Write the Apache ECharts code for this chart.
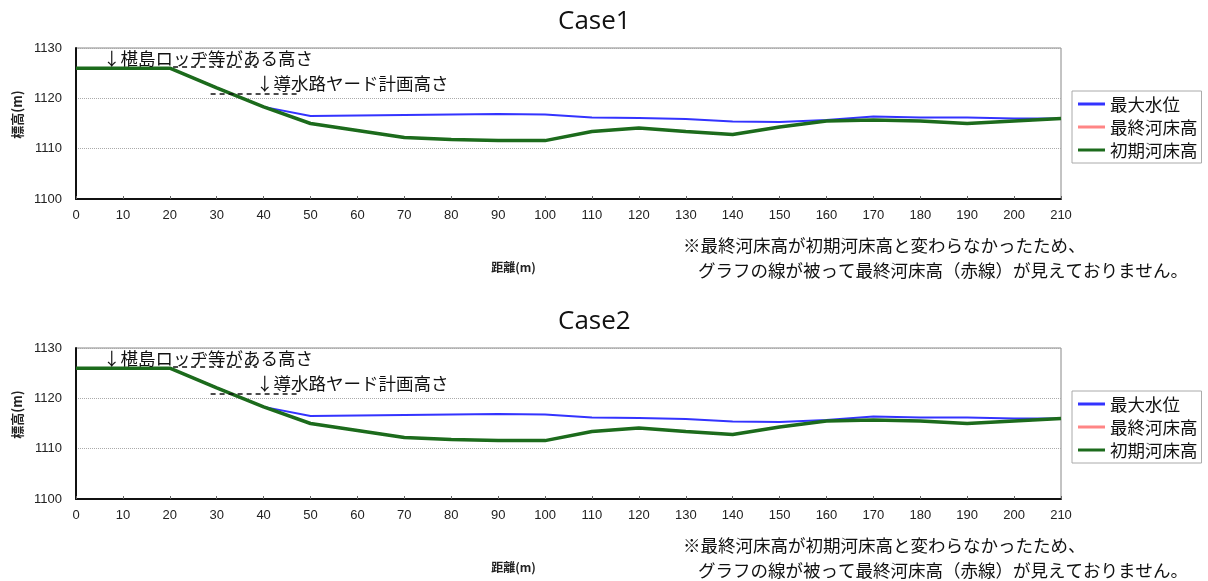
<!DOCTYPE html>
<html>
<head>
<meta charset="utf-8">
<script src="https://cdn.jsdelivr.net/npm/echarts@6/dist/echarts.min.js"></script>
<style>
  html, body { margin: 0; padding: 0; background: #fff; }
  #case1 { position: absolute; left: 0; top: 0; width: 1208px; height: 300px; }
  #case2 { position: absolute; left: 0; top: 300px; width: 1208px; height: 281px; }
</style>
</head>
<body>
<div id="case1"></div>
<div id="case2"></div>
<script>
// 距離 (m)
const distance = [0, 10, 20, 30, 40, 50, 60, 70, 80, 90, 100, 110, 120, 130, 140, 150, 160, 170, 180, 190, 200, 210];
// 最大水位
const waterMax = [1126, 1126, 1126, 1122.1, 1118.3, 1116.5, 1116.6, 1116.7, 1116.8, 1116.9, 1116.8, 1116.2, 1116.1, 1115.9, 1115.4, 1115.3, 1115.7, 1116.4, 1116.2, 1116.2, 1116.0, 1116.0];
// 最終河床高 (同じ値なので初期河床高の下に隠れる)
const bedFinal = [1126, 1126, 1126, 1122.1, 1118.3, 1115.0, 1113.6, 1112.2, 1111.8, 1111.6, 1111.6, 1113.4, 1114.1, 1113.4, 1112.8, 1114.3, 1115.5, 1115.7, 1115.5, 1115.0, 1115.5, 1116.0];
// 初期河床高
const bedInitial = [1126, 1126, 1126, 1122.1, 1118.3, 1115.0, 1113.6, 1112.2, 1111.8, 1111.6, 1111.6, 1113.4, 1114.1, 1113.4, 1112.8, 1114.3, 1115.5, 1115.7, 1115.5, 1115.0, 1115.5, 1116.0];
// 破線の高さ
const lodgeLevel = { from: 20.7, to: 38.6, height: 1126.2 };
const yardLevel = { from: 28.7, to: 47.1, height: 1121.0 };
const yTicks = [1100, 1110, 1120, 1130];

const CJK = '"Noto Sans CJK JP", sans-serif';
const NUM = '"Liberation Sans", Arial, sans-serif';

function pairs(ys) {
  return distance.map((d, i) => [d, ys[i]]);
}

function makeOption(title) {
  return {
    animation: false,
    title: {
      text: title,
      left: 553,
      top: 4,
      textStyle: { fontFamily: '"Open Sans", sans-serif', fontSize: 26, fontWeight: 'normal', color: '#111' }
    },
    grid: {
      left: 76, right: 147, top: 48, height: 151,
      show: true, borderColor: '#888', borderWidth: 1
    },
    legend: {
      orient: 'vertical',
      left: 1072, top: 91,
      padding: [3, 4, 3, 6],
      borderColor: '#aaa', borderWidth: 1,
      itemWidth: 27, itemHeight: 3, itemGap: 3,
      icon: 'rect',
      textStyle: { fontFamily: CJK, fontSize: 17.5, color: '#111', lineHeight: 20 },
      data: ['最大水位', '最終河床高', '初期河床高']
    },
    xAxis: {
      type: 'value',
      min: 0, max: 210, interval: 10,
      name: '距離(m)',
      nameLocation: 'middle',
      nameGap: 62,
      nameTextStyle: { fontFamily: CJK, fontSize: 12, fontWeight: 'bold', color: '#222', padding: [0, 110, 0, 0] },
      axisLine: { lineStyle: { color: '#111', width: 2 } },
      axisTick: { inside: true, length: 3, lineStyle: { color: '#666' } },
      axisLabel: { fontFamily: NUM, fontSize: 13, color: '#222', margin: 10 },
      splitLine: { show: false }
    },
    yAxis: {
      type: 'value',
      min: yTicks[0], max: yTicks[yTicks.length - 1], interval: 10,
      name: '標高(m)',
      nameLocation: 'middle',
      nameRotate: 90,
      nameGap: 52,
      nameTextStyle: { fontFamily: CJK, fontSize: 13, fontWeight: 'bold', color: '#222', padding: [0, 0, 0, 18] },
      axisLine: { show: true, lineStyle: { color: '#111', width: 2 } },
      axisTick: { show: false },
      axisLabel: { fontFamily: NUM, fontSize: 13, color: '#222', margin: 14, formatter: (v) => String(v) },
      splitLine: { lineStyle: { color: '#aaa', type: 'dotted' } }
    },
    series: [
      {
        name: '最大水位', type: 'line', symbol: 'none', z: 2,
        data: pairs(waterMax),
        itemStyle: { color: '#3333ff' },
        lineStyle: { color: '#3333ff', width: 2 }
      },
      {
        name: '最終河床高', type: 'line', symbol: 'none', z: 3,
        data: pairs(bedFinal),
        itemStyle: { color: '#ff8585' },
        lineStyle: { color: '#ff8585', width: 2 }
      },
      {
        name: '初期河床高', type: 'line', symbol: 'none', z: 4,
        data: pairs(bedInitial),
        itemStyle: { color: '#1c6b1c' },
        lineStyle: { color: '#1c6b1c', width: 3.5 },
        markLine: {
          silent: true, symbol: 'none', label: { show: false },
          lineStyle: { color: '#111', type: [5, 4], width: 1.5 },
          data: [
            [{ coord: [lodgeLevel.from, lodgeLevel.height] }, { coord: [lodgeLevel.to, lodgeLevel.height] }],
            [{ coord: [yardLevel.from, yardLevel.height] }, { coord: [yardLevel.to, yardLevel.height] }]
          ]
        }
      }
    ],
    graphic: [
      { type: 'text', x: 103, y: 58, z: 10, style: { text: '↓椹島ロッヂ等がある高さ', font: '17.5px ' + CJK, fill: '#111', verticalAlign: 'middle' } },
      { type: 'text', x: 256, y: 83, z: 10, style: { text: '↓導水路ヤード計画高さ', font: '17.5px ' + CJK, fill: '#111', verticalAlign: 'middle' } },
      { type: 'text', x: 683, y: 245, style: { text: '※最終河床高が初期河床高と変わらなかったため、', font: '17.5px ' + CJK, fill: '#111', verticalAlign: 'middle' } },
      { type: 'text', x: 698, y: 270, style: { text: 'グラフの線が被って最終河床高（赤線）が見えておりません。', font: '17.5px ' + CJK, fill: '#111', verticalAlign: 'middle' } }
    ]
  };
}

const chart1 = echarts.init(document.getElementById('case1'));
const chart2 = echarts.init(document.getElementById('case2'));
chart1.setOption(makeOption('Case1'));
chart2.setOption(makeOption('Case2'));
</script>
</body>
</html>
